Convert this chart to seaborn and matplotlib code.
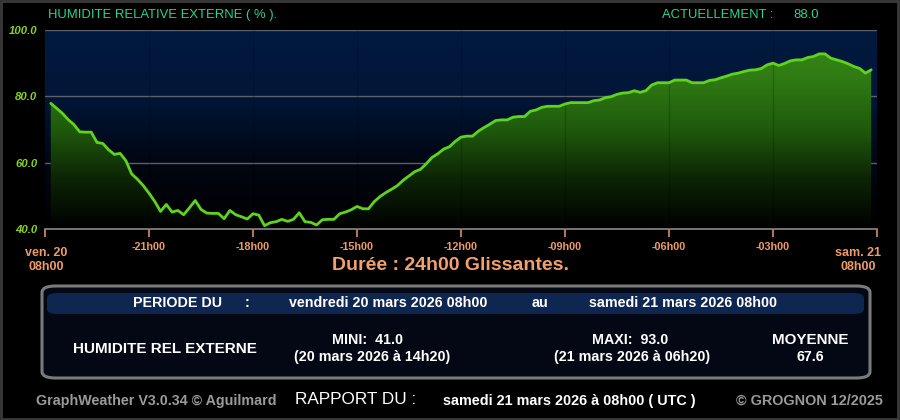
import numpy as np
import matplotlib
matplotlib.use("Agg")
import matplotlib.pyplot as plt
import seaborn as sns
from matplotlib.colors import LinearSegmentedColormap
from matplotlib.patches import FancyBboxPatch, Rectangle

sns.set_theme(style="dark")
plt.rcParams['font.family'] = ['Liberation Sans', 'DejaVu Sans']

# humidite relative externe (%), un releve toutes les 10 minutes (ven. 08h10 -> sam. 07h50)
humidite = [
    77.9, 76.4, 74.9, 73.0, 71.5, 69.3, 69.2, 69.2, 66.1, 65.8,
    63.9, 62.5, 62.8, 60.6, 56.6, 55.0, 53.1, 50.8, 48.3, 45.3,
    47.4, 45.1, 45.6, 44.3, 46.4, 48.6, 45.9, 44.8, 44.7, 44.7,
    43.1, 45.6, 44.3, 43.7, 43.0, 44.6, 44.2, 41.0, 41.9, 42.2,
    42.9, 42.3, 42.9, 44.9, 42.2, 42.0, 41.2, 42.8, 42.9, 42.9,
    44.6, 45.1, 45.8, 46.8, 46.1, 46.1, 48.3, 49.8, 51.0, 52.0,
    53.1, 54.7, 56.0, 57.3, 58.0, 59.7, 61.6, 62.7, 64.1, 64.8,
    66.4, 67.7, 68.0, 68.0, 69.5, 70.6, 71.6, 72.7, 72.9, 72.9,
    73.7, 73.9, 73.9, 75.5, 75.9, 76.7, 77.0, 77.0, 77.0, 77.7,
    78.1, 78.1, 78.1, 78.1, 78.7, 78.9, 79.6, 79.9, 80.6, 81.0,
    81.1, 81.7, 81.2, 81.7, 83.4, 84.1, 84.1, 84.1, 84.9, 84.9,
    84.9, 84.1, 84.1, 84.1, 84.8, 85.0, 85.6, 86.1, 86.7, 87.0,
    87.5, 87.9, 88.0, 88.4, 89.5, 90.0, 89.3, 89.9, 90.7, 91.0,
    91.0, 91.7, 92.0, 92.8, 92.8, 91.5, 91.0, 90.5, 89.8, 89.0,
    88.4, 87.0, 88.0,
]
heures = (np.arange(1, len(humidite) + 1) * 10 - 1440) / 60.0

x_ticks = [-24, -21, -18, -15, -12, -9, -6, -3, 0]
x_labels = ["", "-21h00", "-18h00", "-15h00", "-12h00", "-09h00", "-06h00", "-03h00", ""]
y_ticks = [40, 60, 80, 100]
y_labels = ["40.0", "60.0", "80.0", "100.0"]

actuel = "88.0"
mini, mini_date = "41.0", "(20 mars 2026 à 14h20)"
maxi, maxi_date = "93.0", "(21 mars 2026 à 06h20)"
moyenne = "67.6"

W, H = 900, 420


def px(x, y):
    return x / W, 1 - y / H


fig = plt.figure(figsize=(9, 4.2), dpi=100, facecolor='black')
ax = fig.add_axes([45 / W, 1 - 229 / H, 832 / W, 199 / H])
ax.set_xlim(-24, 0)
ax.set_ylim(40, 100)

# fond degrade bleu nuit -> noir
fond = LinearSegmentedColormap.from_list('fond', ['#000000', '#000612', '#011638', '#021a40'])
ax.imshow(np.linspace(0, 1, 256).reshape(-1, 1)[::-1], extent=[-24, 0, 40, 100],
          aspect='auto', cmap=fond, zorder=0)

for v in [60, 80, 100]:
    ax.axhline(v, color='#5c6068', lw=1, zorder=1)

# remplissage vert degrade
poly = ax.fill_between(heures, humidite, 40, facecolor='none', edgecolor='none', zorder=2)
vert = LinearSegmentedColormap.from_list('vert', ['#000000', '#0c2405', '#1f5a0c', '#2f7a14', '#3a8c18'])
im = ax.imshow(np.linspace(0, 1, 256).reshape(-1, 1)[::-1], extent=[-24, 0, 40, 100],
               aspect='auto', cmap=vert, zorder=2)
im.set_clip_path(poly.get_paths()[0], transform=ax.transData)

for t in x_ticks[1:-1]:
    ax.axvline(t, color='black', lw=1, alpha=0.18, zorder=3)

sns.lineplot(x=heures, y=humidite, ax=ax, color='#5fd41c', lw=2, zorder=4)
ax.set_xlabel("")
ax.set_ylabel("")
ax.grid(False)

for s in ['top', 'left', 'right']:
    ax.spines[s].set_visible(False)
ax.spines['bottom'].set_color('#8a8a8a')
ax.spines['bottom'].set_linewidth(1.2)

ax.set_xticks(x_ticks)
ax.set_xticklabels(x_labels, fontweight='bold')
ax.tick_params(axis='x', colors='#c8875a', length=6, width=1.3, direction='out',
               labelcolor='#ec9b68', labelsize=7.8, pad=3.5, bottom=True)
ax.set_yticks(y_ticks)
ax.set_yticklabels(y_labels, fontweight='bold', fontstyle='italic')
ax.tick_params(axis='y', length=0, labelcolor='#88d41e', labelsize=8.2, pad=5.5, left=True)

# titres
teal = '#26d68c'
fig.text(*px(48, 15), "HUMIDITE RELATIVE EXTERNE ( % ).", color=teal, fontsize=9.4, va='center')
fig.text(*px(662, 15), "ACTUELLEMENT :", color=teal, fontsize=9.4, va='center')
fig.text(*px(793, 15), actuel, color=teal, fontsize=9.4, va='center')

orange = '#ec9b68'
fig.text(*px(46, 260), "ven. 20\n08h00", color=orange, fontsize=9, fontweight='bold',
         ha='center', va='center', linespacing=1.15)
fig.text(*px(858, 260), "sam. 21\n08h00", color=orange, fontsize=9, fontweight='bold',
         ha='center', va='center', linespacing=1.15)
fig.text(*px(451, 266), "Durée : 24h00 Glissantes.", color='#f2a06c', fontsize=14,
         fontweight='bold', ha='center', va='center')

# cadre du rapport
cadre = FancyBboxPatch((42 / W, 1 - 378 / H), 828 / W, 92 / H,
                       boxstyle="round,pad=0,rounding_size=0.015",
                       transform=fig.transFigure, facecolor='#040814',
                       edgecolor='#7a7a7a', lw=2.2, zorder=1)
fig.patches.append(cadre)
bande = FancyBboxPatch((47 / W, 1 - 314 / H), 817 / W, 21 / H,
                       boxstyle="round,pad=0,rounding_size=0.012",
                       transform=fig.transFigure, facecolor='#0f2750',
                       edgecolor='none', zorder=2)
fig.patches.append(bande)
fig.patches.append(Rectangle((0.001, 0.002), 0.997, 0.996, transform=fig.transFigure,
                             facecolor='none', edgecolor='#3a3a3a', lw=2))

blanc = dict(color='white', fontsize=10.3, fontweight='bold', va='center', zorder=3)
fig.text(*px(133, 303), "PERIODE DU", **blanc)
fig.text(*px(247, 303), ":", ha='center', **blanc)
fig.text(*px(289, 303), "vendredi 20 mars 2026 08h00", **blanc)
fig.text(*px(532, 303), "au", **blanc)
fig.text(*px(589, 303), "samedi 21 mars 2026 08h00", **blanc)

fig.text(*px(165, 349), "HUMIDITE REL EXTERNE", ha='center', **{**blanc, 'fontsize': 11})
fig.text(*px(368, 340), "MINI:  " + mini, ha='center', **blanc)
fig.text(*px(372, 357), mini_date, ha='center', **blanc)
fig.text(*px(630, 340), "MAXI:  " + maxi, ha='center', **blanc)
fig.text(*px(632, 357), maxi_date, ha='center', **blanc)
fig.text(*px(810, 340), "MOYENNE", ha='center', **{**blanc, 'fontsize': 10.9})
fig.text(*px(810, 357), moyenne, ha='center', **blanc)

# pied de page
fig.text(*px(36, 401), "GraphWeather V3.0.34 © Aguilmard", color='#9a9a9a', fontsize=10.3,
         fontweight='bold', va='center')
fig.text(*px(295, 400), "RAPPORT DU :", color='white', fontsize=12.3, va='center')
fig.text(*px(443, 401), "samedi 21 mars 2026 à 08h00 ( UTC )", color='white', fontsize=10.4,
         fontweight='bold', va='center')
fig.text(*px(883, 401), "© GROGNON 12/2025", color='#9a9a9a', fontsize=10.4,
         fontweight='bold', va='center', ha='right')

fig.savefig("out.png", dpi=100, facecolor='black')
